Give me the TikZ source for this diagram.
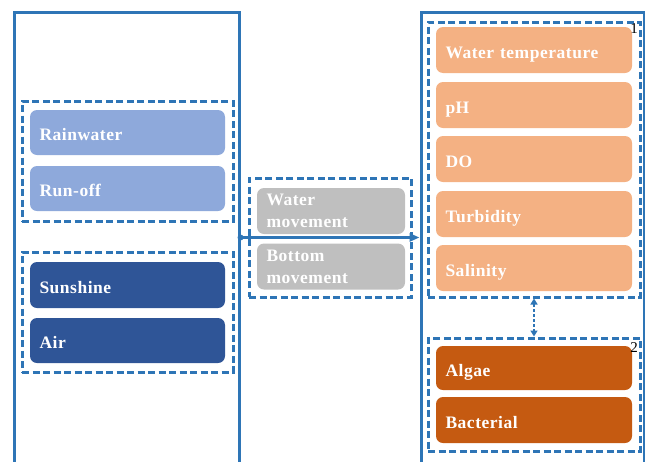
\documentclass[tikz,border=0pt]{standalone}
\usepackage{fontspec}
\setmainfont{Liberation Serif}
\usetikzlibrary{arrows.meta}
\definecolor{outl}{HTML}{2E75B6}
\definecolor{lblue}{HTML}{8EA9DB}
\definecolor{dblue}{HTML}{2F5597}
\definecolor{lgray}{HTML}{BFBFBF}
\definecolor{lorange}{HTML}{F4B183}
\definecolor{dorange}{HTML}{C55A11}
\tikzset{
  bigbox/.style={draw=outl, line width=3pt, fill=none, inner sep=0pt},
  dashbox/.style={draw=outl, line width=3pt, dash pattern=on 7pt off 3.5pt, inner sep=0pt},
  itembox/.style={rounded corners=7pt, draw=none, text=white, inner xsep=9.5pt, inner ysep=0pt, align=left,
    font=\fontsize{17.5}{22}\selectfont\bfseries\addfontfeature{LetterSpace=3}},
  leftbox/.style={itembox, text width=176pt, minimum height=45pt, text height=16.5pt, text depth=0pt},
  midbox/.style={itembox, text width=129pt, minimum height=46pt},
  rightbox/.style={itembox, text width=177pt, minimum height=46pt, text height=16.5pt, text depth=0pt},
  numlabel/.style={inner sep=0pt, font=\fontsize{15}{15}\selectfont},
  mainarrow/.style={draw=outl, line width=2.4pt, -{Triangle[length=10pt,width=8pt]}},
  linkarrow/.style={draw=outl, line width=2pt, dash pattern=on 3pt off 2pt, {Triangle[length=6pt,width=7pt]}-{Triangle[length=6pt,width=7pt]}},
}
\begin{document}
\begin{tikzpicture}[x=1pt,y=-1pt]
\useasboundingbox (0,0) rectangle (645,461);
\begin{scope}
\clip (0,0) rectangle (645,461);
% big frames
\node[bigbox, minimum width=225pt, minimum height=470pt] (bigL) at (126.5,247) {};
\node[bigbox, minimum width=223pt, minimum height=470pt] (bigR) at (532.5,247) {};
% left dashed groups
\node[dashbox, minimum width=211pt, minimum height=120pt] (g1) at (127.5,161) {};
\node[dashbox, minimum width=211pt, minimum height=120pt] (g2) at (127.5,312) {};
% middle group
\node[dashbox, minimum width=162pt, minimum height=119pt] (g3) at (330,237.5) {};
% right groups
\node[dashbox, minimum width=212pt, minimum height=275pt] (g4) at (534,159.5) {};
\node[dashbox, minimum width=212pt, minimum height=113pt] (g5) at (534,394.5) {};
% left items
\node[leftbox, fill=lblue] (rain) at (127.5,132.5) {Rainwater};
\node[leftbox, fill=lblue] (runoff) at (127.5,188.5) {Run-off};
\node[leftbox, fill=dblue, minimum height=46pt] (sun) at (127.5,285) {Sunshine};
\node[leftbox, fill=dblue] (air) at (127.5,340.5) {Air};
% middle items
\node[midbox, fill=lgray] (wmove) at (331,211) {Water\\movement};
\node[midbox, fill=lgray] (bmove) at (331,266.5) {Bottom\\movement};
% right items
\node[rightbox, fill=lorange] (wt) at (534,50) {Water temperature};
\node[rightbox, fill=lorange] (ph) at (534,105) {pH};
\node[rightbox, fill=lorange] (do) at (534,159) {DO};
\node[rightbox, fill=lorange] (turb) at (534,214) {Turbidity};
\node[rightbox, fill=lorange] (sal) at (534,268) {Salinity};
\node[rightbox, fill=dorange, minimum height=44pt] (algae) at (534,368) {Algae};
\node[rightbox, fill=dorange] (bact) at (534,420) {Bacterial};
% number labels
\node[numlabel] (n1) at (634,29) {1};
\node[numlabel] (n2) at (634,348) {2};
% connectors
\fill[outl] (bigL.east |- g3.center) circle (3pt);
\draw[mainarrow] (bigL.east |- g3.center) -- (bigR.west |- g3.center);
\draw[linkarrow] (g4.south) -- (g5.north);
\end{scope}
\end{tikzpicture}
\end{document}
